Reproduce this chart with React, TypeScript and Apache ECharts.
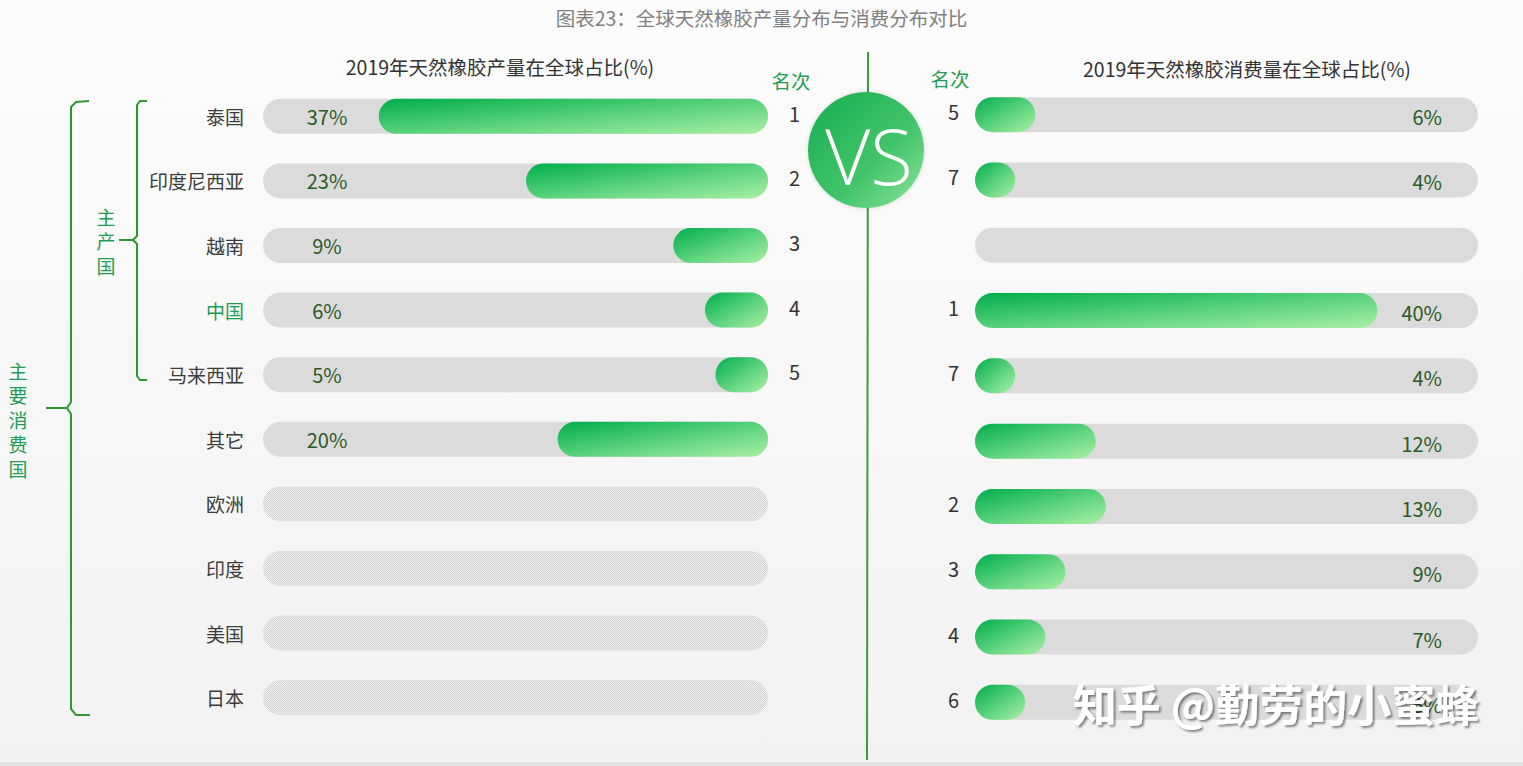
import React, { useEffect, useRef } from "react";
import * as echarts from "echarts";

const categories = ["泰国", "印度尼西亚", "越南", "中国", "马来西亚", "其它", "欧洲", "印度", "美国", "日本"];
const productionShare = [37, 23, 9, 6, 5, 20, null, null, null, null];
const productionRank = ["1", "2", "3", "4", "5", "", "", "", "", ""];
const consumptionShare = [6, 4, null, 40, 4, 12, 13, 9, 7, 5];
const consumptionRank = ["5", "7", "", "1", "7", "", "2", "3", "4", "6"];
const hatchedRows = ["欧洲", "印度", "美国", "日本"];
const highlightCategory = "中国";
const producerGroupLabel = "主产国";
const consumerGroupLabel = "主要消费国";
const leftMax = 48;
const rightMax = 50;

const FONT = "'Noto Sans CJK SC', 'Noto Sans', sans-serif";

function makePattern() {
  const c = document.createElement("canvas");
  c.width = 2;
  c.height = 2;
  const ctx = c.getContext("2d");
  if (ctx) {
    ctx.fillStyle = "#f4f4f4";
    ctx.fillRect(0, 0, 2, 2);
    ctx.fillStyle = "#cdcdcd";
    ctx.fillRect(0, 0, 1, 1);
    ctx.fillRect(1, 1, 1, 1);
  }
  return { image: c, repeat: "repeat", imageWidth: 2, imageHeight: 2 };
}

const greenGrad = () =>
  new echarts.graphic.LinearGradient(0, 0, 1, 1, [
    { offset: 0, color: "#00ad4b" },
    { offset: 0.55, color: "#5fd47f" },
    { offset: 1, color: "#a9f0a2" },
  ]);

function verticalText(text: string, x: number, yStart: number, step: number, color: string) {
  return text.split("").map((ch, i) => ({
    type: "text",
    x,
    y: yStart + i * step,
    style: {
      text: ch,
      fontSize: 19,
      fontFamily: FONT,
      fill: color,
      align: "center",
      verticalAlign: "middle",
    },
  }));
}

export default function App() {
  const ref = useRef<HTMLDivElement>(null);
  useEffect(() => {
    if (!ref.current) return;
    const chart = echarts.init(ref.current, null, { renderer: "svg" });
    const pattern = makePattern();
    const greenText = "#1f9c55";
    const bracketColor = "#2b9a2f";

    const option: any = {
      animation: false,
      backgroundColor: "transparent",
      grid: [
        { left: 263, top: 84, width: 505, height: 646 },
        { left: 975, top: 82, width: 503, height: 653 },
      ],
      xAxis: [
        { type: "value", gridIndex: 0, min: 0, max: leftMax, inverse: true, show: false },
        { type: "value", gridIndex: 1, min: 0, max: rightMax, show: false },
      ],
      yAxis: [
        {
          type: "category",
          gridIndex: 0,
          inverse: true,
          data: categories.map((c) =>
            c === highlightCategory ? { value: c, textStyle: { color: greenText } } : c
          ),
          axisLine: { show: false, onZero: false },
          axisTick: { show: false },
          splitLine: { show: false },
          axisLabel: { margin: 19, fontSize: 19, color: "#3c3c3c", fontFamily: FONT },
        },
        {
          type: "category",
          gridIndex: 1,
          inverse: true,
          data: categories,
          show: false,
        },
      ],
      series: [
        {
          type: "bar",
          xAxisIndex: 0,
          yAxisIndex: 0,
          barWidth: 35,
          silent: true,
          itemStyle: { color: "#dcdbdb", borderRadius: 18 },
          data: categories.map((c) =>
            hatchedRows.includes(c)
              ? { value: leftMax, itemStyle: { color: pattern } }
              : { value: leftMax }
          ),
          label: {
            show: true,
            position: [64, "50%"],
            align: "center",
            verticalAlign: "middle",
            fontSize: 20,
            fontFamily: FONT,
            color: "#2b5a27",
            formatter: (p: any) => {
              const v = productionShare[p.dataIndex];
              return v == null ? "" : v + "%";
            },
          },
          z: 2,
        },
        {
          type: "bar",
          xAxisIndex: 0,
          yAxisIndex: 0,
          barWidth: 35,
          barGap: "-100%",
          silent: true,
          itemStyle: { color: greenGrad(), borderRadius: 18 },
          data: productionShare,
          label: {
            show: true,
            position: "right",
            distance: 21,
            fontSize: 20,
            fontFamily: FONT,
            color: "#333333",
            offset: [0, -3],
            formatter: (p: any) => productionRank[p.dataIndex],
          },
          z: 3,
        },
        {
          type: "bar",
          xAxisIndex: 1,
          yAxisIndex: 1,
          barWidth: 35,
          silent: true,
          itemStyle: { color: "#dcdbdb", borderRadius: 18 },
          data: categories.map(() => rightMax),
          label: {
            show: true,
            position: "insideRight",
            distance: 36,
            fontSize: 20,
            fontFamily: FONT,
            color: "#2b5a27",
            offset: [0, 2],
            formatter: (p: any) => {
              const v = consumptionShare[p.dataIndex];
              return v == null ? "" : v + "%";
            },
          },
          z: 2,
        },
        {
          type: "bar",
          xAxisIndex: 1,
          yAxisIndex: 1,
          barWidth: 35,
          barGap: "-100%",
          silent: true,
          itemStyle: { color: greenGrad(), borderRadius: 18 },
          data: consumptionShare,
          label: {
            show: true,
            position: "left",
            distance: 16,
            fontSize: 20,
            fontFamily: FONT,
            color: "#333333",
            offset: [0, -3],
            formatter: (p: any) => consumptionRank[p.dataIndex],
          },
          z: 3,
        },
      ],
      graphic: [
        {
          type: "text",
          left: "center",
          top: 8,
          style: {
            text: "图表23：全球天然橡胶产量分布与消费分布对比",
            fontSize: 19.5,
            fontFamily: FONT,
            fill: "#808080",
          },
        },
        {
          type: "text",
          x: 500,
          y: 66,
          style: {
            text: "2019年天然橡胶产量在全球占比(%)",
            fontSize: 19.5,
            fontFamily: FONT,
            fill: "#333333",
            align: "center",
            verticalAlign: "middle",
          },
        },
        {
          type: "text",
          x: 1247,
          y: 68,
          style: {
            text: "2019年天然橡胶消费量在全球占比(%)",
            fontSize: 19.5,
            fontFamily: FONT,
            fill: "#333333",
            align: "center",
            verticalAlign: "middle",
          },
        },
        {
          type: "text",
          x: 791,
          y: 80,
          style: { text: "名次", fontSize: 19.5, fontFamily: FONT, fill: greenText, align: "center", verticalAlign: "middle" },
        },
        {
          type: "text",
          x: 950,
          y: 78,
          style: { text: "名次", fontSize: 19.5, fontFamily: FONT, fill: greenText, align: "center", verticalAlign: "middle" },
        },
        // outer bracket
        {
          type: "polyline",
          shape: { points: [[89, 101], [76, 102], [71, 107], [71, 402], [67, 408], [46, 408]] },
          style: { stroke: bracketColor, lineWidth: 2, fill: null },
        },
        {
          type: "polyline",
          shape: { points: [[67, 408], [71, 414], [71, 709], [76, 715], [90, 715]] },
          style: { stroke: bracketColor, lineWidth: 2, fill: null },
        },
        // inner bracket
        {
          type: "polyline",
          shape: { points: [[147, 101], [140, 101], [137, 105], [137, 236], [133, 240], [119, 240]] },
          style: { stroke: bracketColor, lineWidth: 2, fill: null },
        },
        {
          type: "polyline",
          shape: { points: [[133, 240], [137, 244], [137, 376], [140, 380], [147, 380]] },
          style: { stroke: bracketColor, lineWidth: 2, fill: null },
        },
        ...verticalText(producerGroupLabel, 106, 216, 24.5, greenText),
        ...verticalText(consumerGroupLabel, 18, 370, 24.5, greenText),
        // divider line
        {
          type: "line",
          z: 10,
          shape: { x1: 868, y1: 52, x2: 867, y2: 760 },
          style: { stroke: "#3a9c3a", lineWidth: 2 },
        },
        {
          type: "circle",
          z: 11,
          shape: { cx: 866, cy: 150, r: 58 },
          style: {
            fill: new echarts.graphic.LinearGradient(0, 0, 1, 1, [
              { offset: 0, color: "#16ac4e" },
              { offset: 0.6, color: "#43c56b" },
              { offset: 1, color: "#8fe39a" },
            ]),
            shadowColor: "rgba(0,0,0,0.15)",
            shadowBlur: 4,
          },
        },
        {
          type: "text",
          z: 12,
          x: 869,
          y: 155,
          style: {
            text: "VS",
            fontSize: 78,
            fontFamily: "'Open Sans', 'Noto Sans', sans-serif",
            fontWeight: 300,
            fill: "#ffffff",
            align: "center",
            verticalAlign: "middle",
          },
        },
        // watermark
        {
          type: "text",
          z: 100,
          x: 1276,
          y: 703,
          style: {
            text: "知乎 @勤劳的小蜜蜂",
            fontSize: 44,
            fontWeight: "bold",
            fontFamily: FONT,
            fill: "#ffffff",
            align: "center",
            verticalAlign: "middle",
            textShadowColor: "rgba(0,0,0,0.45)",
            textShadowOffsetX: 2,
            textShadowOffsetY: 2,
            textShadowBlur: 2,
          },
        },
        {
          type: "rect",
          z: 0,
          shape: { x: 0, y: 762, width: 1523, height: 4 },
          style: { fill: "#e2e2e2" },
        },
      ],
    };
    chart.setOption(option);
    return () => chart.dispose();
  }, []);
  return (
    <div
      ref={ref}
      style={{
        position: "fixed",
        left: 0,
        top: 0,
        width: 1523,
        height: 766,
        background: "linear-gradient(180deg, #fcfcfc 0%, #f6f6f6 60%, #f2f2f2 100%)",
      }}
    />
  );
}
